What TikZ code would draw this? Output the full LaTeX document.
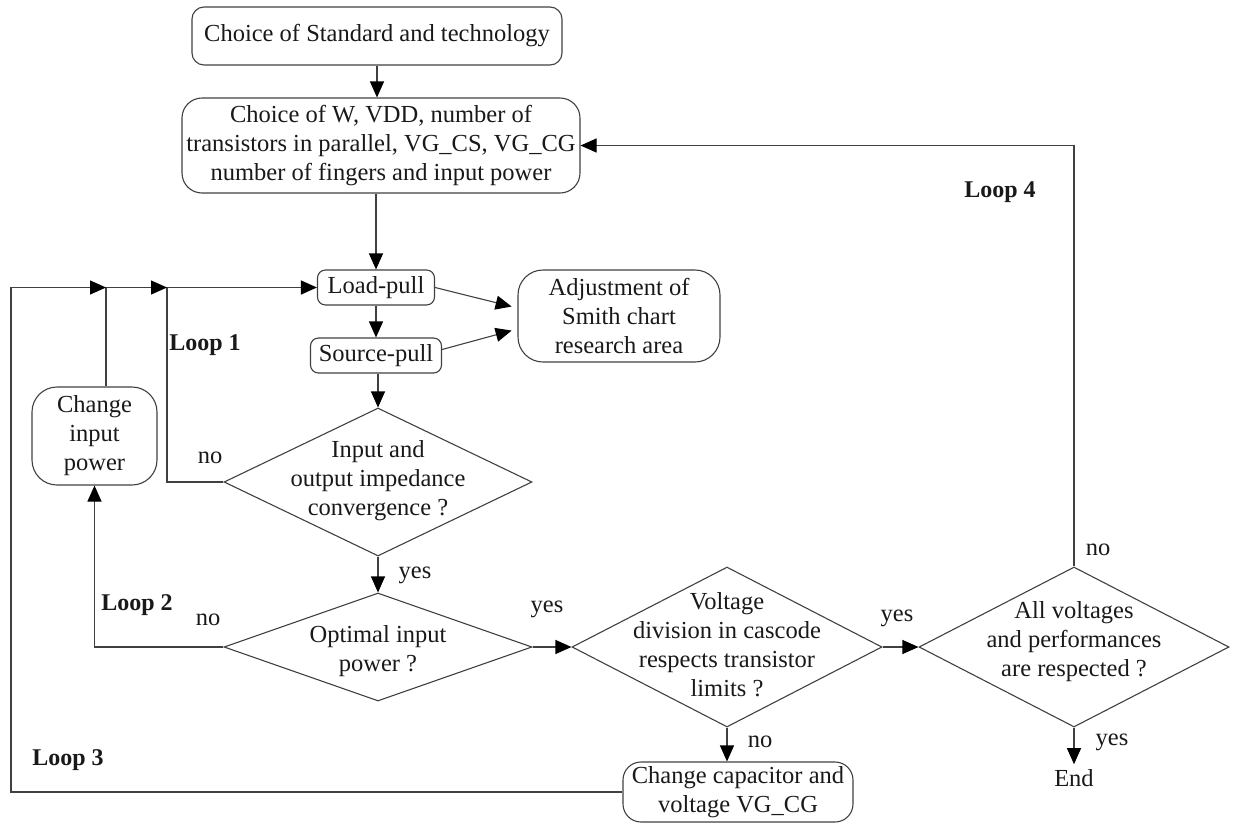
\documentclass[tikz,border=0pt]{standalone}
\usepackage{fontspec}
\setmainfont{Liberation Serif}
\usetikzlibrary{arrows.meta,shapes.geometric}
\begin{document}
\begin{tikzpicture}[x=1pt,y=-1pt,
  every node/.style={font=\fontsize{24.5}{29}\selectfont, text=black!90},
  conn/.style={draw=black!75, line width=1.1pt},
  arr/.style={conn, -{Triangle[length=16pt,width=14pt,color=black,fill=black]}},
  box/.style={draw=black!75, line width=1.1pt, rounded corners=12pt, align=center, inner sep=1pt},
  decision/.style={draw=black!75, line width=1.1pt, diamond, inner sep=0pt},
  dtext/.style={align=center, inner sep=0pt},
  lbl/.style={inner sep=0pt},
  loopname/.style={inner sep=0pt, font=\fontsize{24}{29}\selectfont\bfseries}]
\useasboundingbox (0,0) rectangle (1235,825);

% process boxes
\node[box, minimum width=370pt, minimum height=58pt] (std) at (377,36) {Choice of Standard and technology};
\node[box, rounded corners=20pt, minimum width=398pt, minimum height=95pt] (par) at (381,145.5)
  {Choice of W, VDD, number of\\transistors in parallel, VG\_CS, VG\_CG\\number of fingers and input power};
\node[box, rounded corners=8pt, minimum width=117pt, minimum height=35pt] (lp) at (376,287.5) {Load-pull};
\node[box, rounded corners=8pt, minimum width=131pt, minimum height=35pt] (sp) at (376,355.5) {Source-pull};
\node[box, rounded corners=25pt, minimum width=202pt, minimum height=92pt] (adj) at (619,316)
  {Adjustment of\\Smith chart\\research area};
\node[box, rounded corners=25pt, minimum width=125pt, minimum height=98pt] (cip) at (94.5,436)
  {Change\\input\\power};
\node[box, rounded corners=18pt, minimum width=230pt, minimum height=60pt] (cap) at (738,792)
  {Change capacitor and\\voltage VG\_CG};

% decisions
\node[decision, minimum width=308pt, minimum height=148pt] (d1) at (378,482) {};
\node[dtext] (d1t) at (378,481) {Input and\\output impedance\\convergence ?};
\node[decision, minimum width=308pt, minimum height=108pt] (d2) at (378,647) {};
\node[dtext] (d2t) at (378,651) {Optimal input\\power ?};
\node[decision, minimum width=310pt, minimum height=160pt] (d3) at (727,647) {};
\node[dtext] (d3t) at (727,645) {Voltage\\division in cascode\\respects transistor\\limits ?};
\node[decision, minimum width=310pt, minimum height=160pt] (d4) at (1074,647) {};
\node[dtext] (d4t) at (1074,642) {All voltages\\and performances\\are respected ?};
\node[lbl] (end) at (1074,778) {End};

% main flow
\draw[arr] (std.south) -- (std.south |- par.north);
\draw[arr] (lp.north |- par.south) -- (lp.north);
\draw[arr] (lp.south) -- (sp.north);
\draw[arr] (sp.south -| d1.north) -- (d1.north);
\draw[arr, shorten >=6pt] (lp.east) -- ([yshift=8pt]adj.west);
\draw[arr, shorten >=6pt] ([yshift=6pt]sp.east) -- ([yshift=-13pt]adj.west);
\draw[arr] (d1.south) -- (d2.north);
\draw[arr] (d2.east) -- (d3.west);
\draw[arr] (d3.east) -- (d4.west);
\draw[arr] (d3.south) -- (d3.south |- cap.north);
\draw[arr, shorten >=5pt] (d4.south) -- (end.north);

% loops back
\coordinate (j3) at (11,287.5);
\coordinate (j2) at (106,287.5);
\coordinate (j1) at (167,287.5);
\draw[arr] (d4.north) -- (d4.north |- par.east) -- (par.east);
\draw[arr] (d1.west) -| (j1) -- (lp.west);
\draw[arr] (d2.west) -| (cip.south);
\draw[arr] (j2 |- cip.north) -- (j2) -- (j1);
\draw[arr] (cap.west) -| (j3) -- (j2);

% branch labels
\node[lbl] (n1) at (210,458) {no};
\node[lbl] (y1) at (415,575) {yes};
\node[lbl] (n2) at (208,620) {no};
\node[lbl] (y2) at (547,609) {yes};
\node[lbl] (y3) at (897,618) {yes};
\node[lbl] (n3) at (760,742) {no};
\node[lbl] (n4) at (1098,550) {no};
\node[lbl] (y4) at (1112,742) {yes};
\node[loopname] (lo1) at (205,345) {Loop 1};
\node[loopname] (lo2) at (137,605) {Loop 2};
\node[loopname] (lo3) at (68,760) {Loop 3};
\node[loopname] (lo4) at (1000,192) {Loop 4};
\end{tikzpicture}
\end{document}
